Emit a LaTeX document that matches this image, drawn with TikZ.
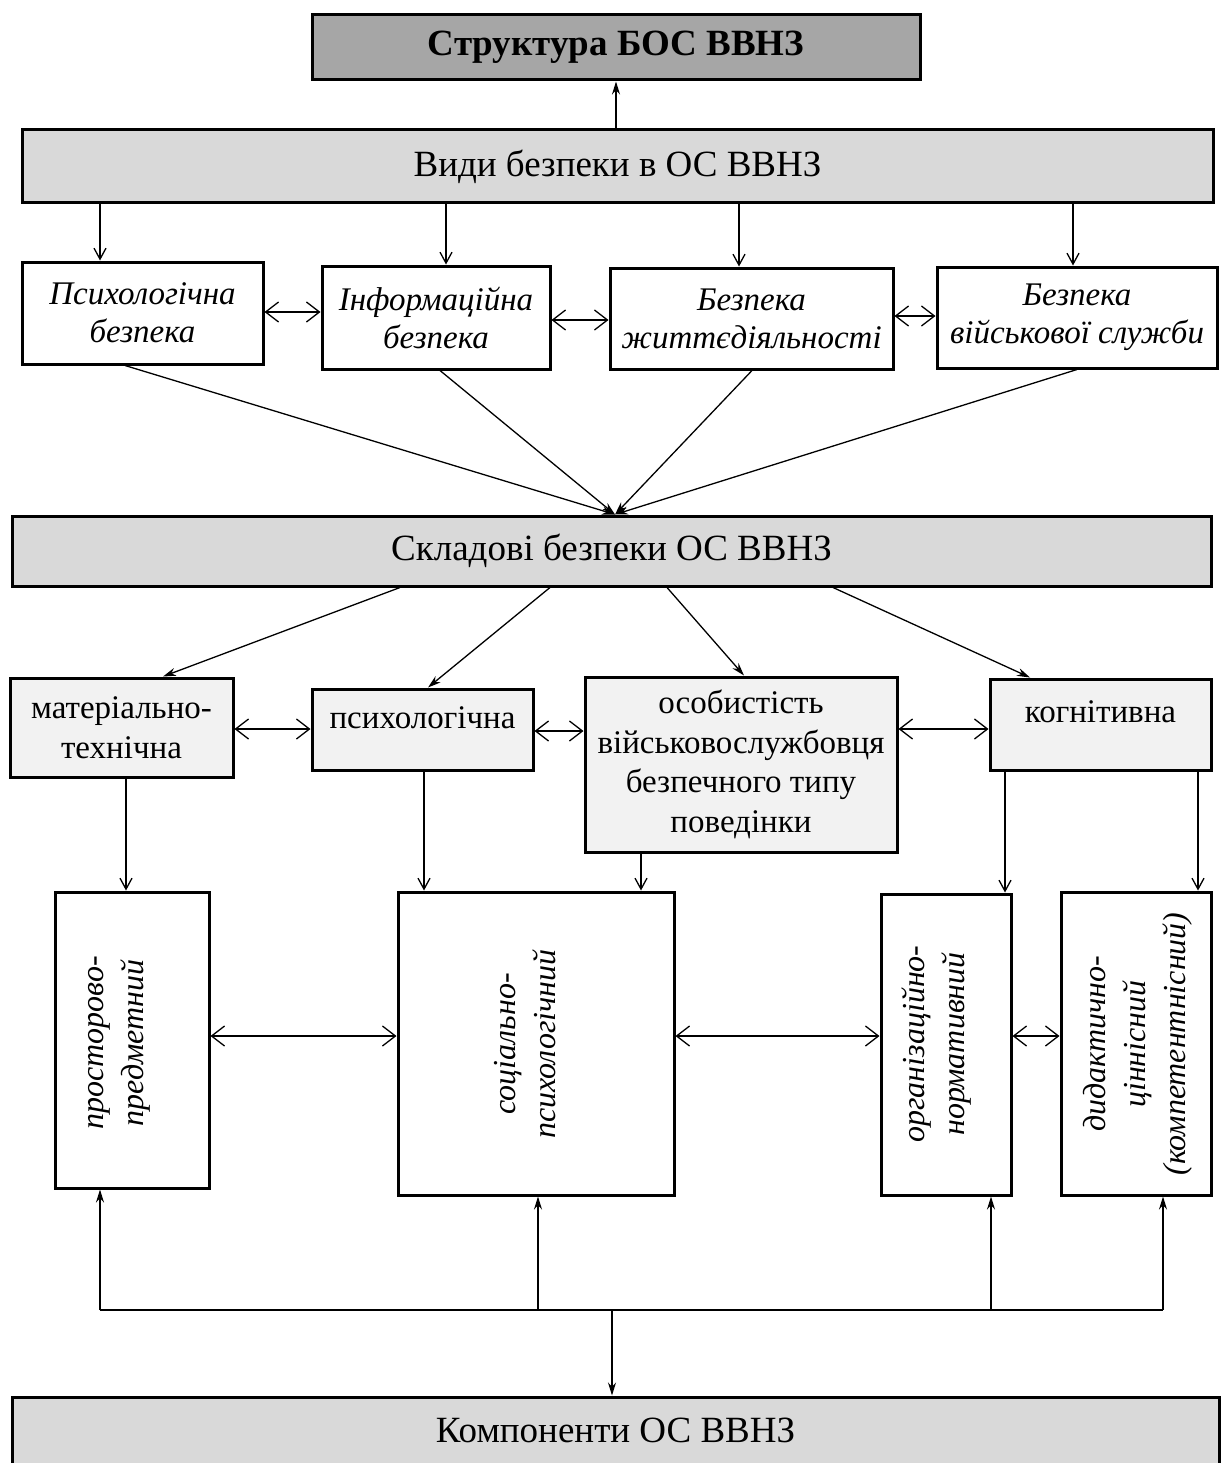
\documentclass[tikz,border=0pt]{standalone}
\usepackage{fontspec}
\setmainfont{Liberation Serif}
\usetikzlibrary{arrows.meta,calc}
\definecolor{dgray}{HTML}{A6A6A6}
\definecolor{lgray}{HTML}{D9D9D9}
\definecolor{vlgray}{HTML}{F2F2F2}
\begin{document}
\begin{tikzpicture}[x=1pt,y=-1pt,
  box/.style={draw, line width=3pt, rectangle, inner sep=0pt, align=center},
  bigtxt/.style={font=\fontsize{37}{44}\selectfont},
  midtxt/.style={font=\fontsize{33}{39.5}\selectfont},
  ittxt/.style={font=\fontsize{33}{38}\selectfont\itshape},
  rottxt/.style={rotate=90, align=center, inner sep=0pt, font=\fontsize{32}{40}\selectfont\itshape},
  con/.style={line width=1.3pt},
  dbl/.style={con, {Straight Barb[length=13pt,width=20pt]}-{Straight Barb[length=13pt,width=20pt]}},
  down/.style={con, -{Straight Barb[length=11pt,width=12pt]}},
  stl/.style={con, -{Stealth[length=13pt,width=8pt]}}
]
\useasboundingbox (0,0) rectangle (1221,1463);

% main boxes
\node[box, fill=dgray, minimum width=608pt, minimum height=65pt, bigtxt, font=\fontsize{37}{44}\selectfont\bfseries] (top) at (616,47.5) {Структура БОС ВВНЗ};
\node[box, fill=lgray, minimum width=1191pt, minimum height=73pt, bigtxt] (vidy) at (617.5,166.5) {Види безпеки в ОС ВВНЗ};

\node[box, fill=white, minimum width=241pt, minimum height=102pt, ittxt] (psy) at (142.5,313) {Психологічна\\безпека};
\node[box, fill=white, minimum width=228pt, minimum height=103pt, ittxt] (info) at (436,317.5) {Інформаційна\\безпека};
\node[box, fill=white, minimum width=283pt, minimum height=101pt, ittxt] (life) at (751.5,318.5) {Безпека\\життєдіяльності};
\node[box, fill=white, minimum width=280pt, minimum height=101pt, ittxt] (mil) at (1077,317.5) {Безпека\\військової служби};

\node[box, fill=lgray, minimum width=1199pt, minimum height=70pt, bigtxt] (sklad) at (611.5,551) {Складові безпеки ОС ВВНЗ};

\node[box, fill=vlgray, minimum width=223pt, minimum height=99pt, midtxt] (mat) at (121.5,727.5) {матеріально-\\технічна};
\node[box, fill=vlgray, minimum width=221pt, minimum height=81pt, midtxt, text height=22pt, text depth=25pt] (psyh) at (422.5,729.5) {психологічна};
\node[box, fill=vlgray, minimum width=312pt, minimum height=175pt, midtxt] (osob) at (741,764.5) {особистість\\військовослужбовця\\безпечного типу\\поведінки};
\node[box, fill=vlgray, minimum width=221pt, minimum height=91pt, midtxt, text height=22pt, text depth=27pt] (kogn) at (1100.5,724.5) {когнітивна};

\node[box, fill=white, minimum width=154pt, minimum height=296pt] (prost) at (132,1040) {};
\node[box, fill=white, minimum width=276pt, minimum height=303pt] (soc) at (536,1043.5) {};
\node[box, fill=white, minimum width=130pt, minimum height=301pt] (org) at (946,1044.5) {};
\node[box, fill=white, minimum width=150pt, minimum height=303pt] (did) at (1136,1043.5) {};

\node[rottxt] (prostT) at (119,1043) {просторово-\\предметний};
\node[rottxt] (socT) at (525,1044) {соціально-\\психологічний};
\node[rottxt] (orgT) at (937,1044) {організаційно-\\нормативний};
\node[rottxt] (didT) at (1138,1044) {дидактично-\\ціннісний\\(компетентнісний)};

\node[box, fill=lgray, minimum width=1207pt, minimum height=78pt, bigtxt, text height=24.5pt, text depth=12pt] (komp) at (615.5,1436) {Компоненти ОС ВВНЗ};

% helper coordinates
\coordinate (x100) at (100,0);
\coordinate (x446) at (446,0);
\coordinate (x739) at (739,0);
\coordinate (x1073) at (1073,0);
\coordinate (h312) at (0,312);
\coordinate (h320) at (0,320);
\coordinate (h316) at (0,316);
\coordinate (c1) at (125,0);
\coordinate (c2) at (440,0);
\coordinate (c3) at (752,0);
\coordinate (c4) at (1077,0);
\coordinate (cv) at (615,0);
\coordinate (s1) at (400,0);
\coordinate (s2) at (550,0);
\coordinate (s3) at (667,0);
\coordinate (s4) at (833,0);
\coordinate (e1) at (163,0);
\coordinate (e2) at (428,0);
\coordinate (e3) at (744,0);
\coordinate (e4) at (1030,0);
\coordinate (h729) at (0,729);
\coordinate (h731) at (0,731);
\coordinate (d1) at (126,0);
\coordinate (d2) at (424,0);
\coordinate (d3) at (641,0);
\coordinate (d4) at (1005,0);
\coordinate (d5) at (1198,0);
\coordinate (h1036) at (0,1036);
\coordinate (bus) at (0,1310);
\coordinate (u1) at (100,0);
\coordinate (u2) at (538,0);
\coordinate (u3) at (991,0);
\coordinate (u4) at (1163,0);
\coordinate (u5) at (612,0);

% connectors
\draw[stl] (vidy.north -| top) -- (top.south);
\draw[down] (vidy.south -| x100) -- (psy.north -| x100);
\draw[down] (vidy.south -| x446) -- (info.north -| x446);
\draw[down] (vidy.south -| x739) -- (life.north -| x739);
\draw[down] (vidy.south -| x1073) -- (mil.north -| x1073);

\draw[dbl] (psy.east |- h312) -- (info.west |- h312);
\draw[dbl] (info.east |- h320) -- (life.west |- h320);
\draw[dbl] (life.east |- h316) -- (mil.west |- h316);

\draw[stl] (psy.south -| c1) -- (sklad.north -| cv);
\draw[stl] (info.south -| c2) -- (sklad.north -| cv);
\draw[stl] (life.south -| c3) -- (sklad.north -| cv);
\draw[stl] (mil.south -| c4) -- (sklad.north -| cv);

\draw[stl] (sklad.south -| s1) -- (mat.north -| e1);
\draw[stl] (sklad.south -| s2) -- (psyh.north -| e2);
\draw[stl] (sklad.south -| s3) -- (osob.north -| e3);
\draw[stl] (sklad.south -| s4) -- (kogn.north -| e4);

\draw[dbl] (mat.east |- h729) -- (psyh.west |- h729);
\draw[dbl] (psyh.east |- h731) -- (osob.west |- h731);
\draw[dbl] (osob.east |- h729) -- (kogn.west |- h729);

\draw[down] (mat.south -| d1) -- (prost.north -| d1);
\draw[down] (psyh.south -| d2) -- (soc.north -| d2);
\draw[down] (osob.south -| d3) -- (soc.north -| d3);
\draw[down] (kogn.south -| d4) -- (org.north -| d4);
\draw[down] (kogn.south -| d5) -- (did.north -| d5);

\draw[dbl] (prost.east |- h1036) -- (soc.west |- h1036);
\draw[dbl] (soc.east |- h1036) -- (org.west |- h1036);
\draw[dbl] (org.east |- h1036) -- (did.west |- h1036);

\draw[con] (bus -| u1) -- (bus -| u4);
\draw[stl] (bus -| u1) -- (prost.south -| u1);
\draw[stl] (bus -| u2) -- (soc.south -| u2);
\draw[stl] (bus -| u3) -- (org.south -| u3);
\draw[stl] (bus -| u4) -- (did.south -| u4);
\draw[stl] (bus -| u5) -- (komp.north -| u5);
\end{tikzpicture}
\end{document}
